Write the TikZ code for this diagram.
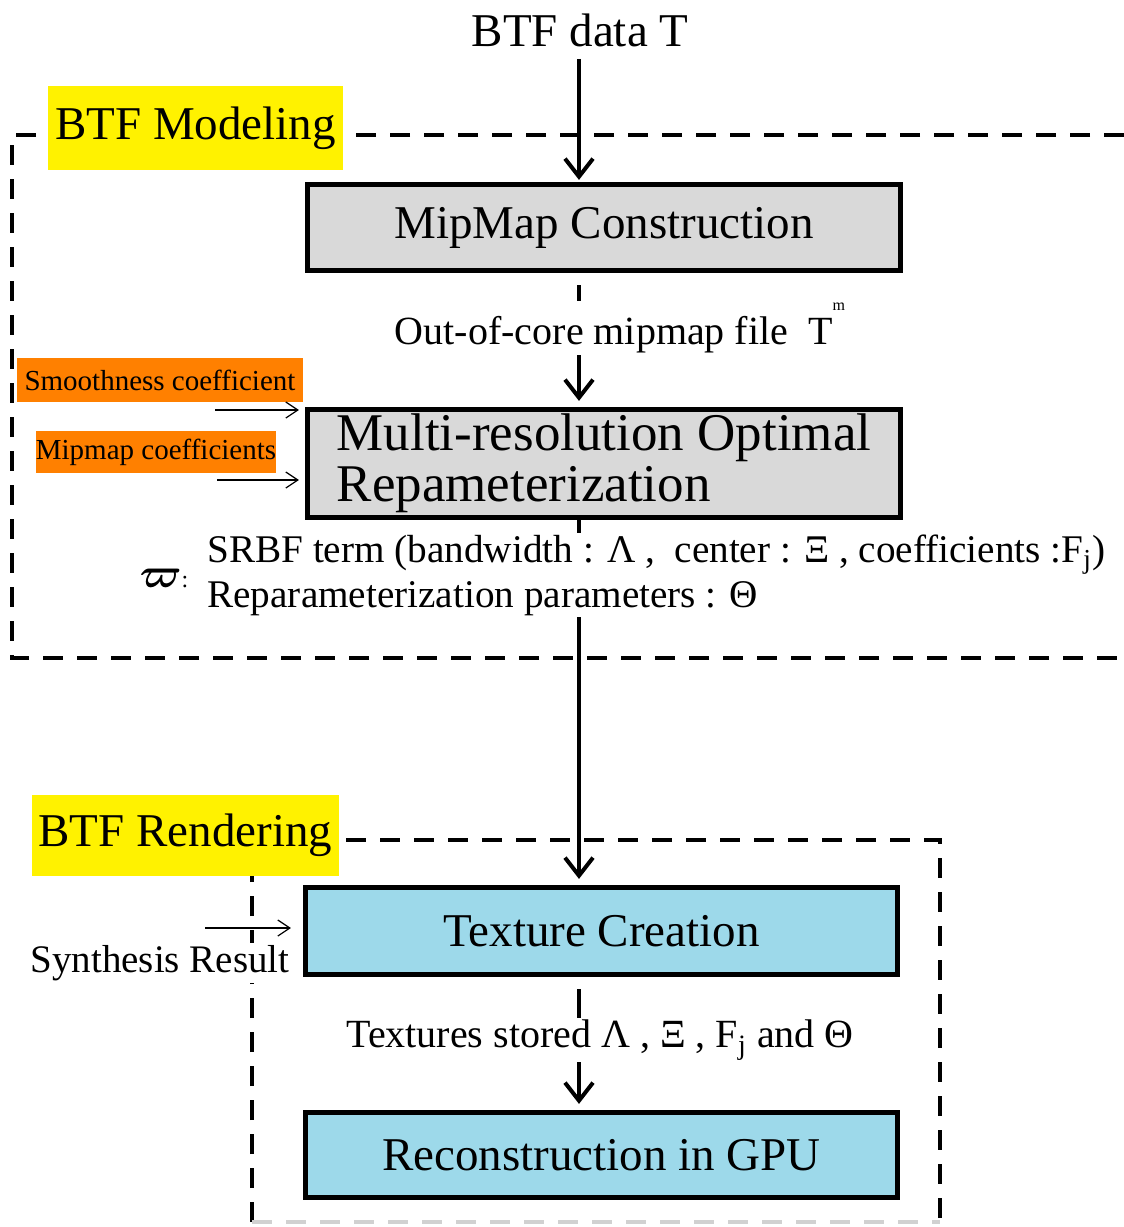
\documentclass[tikz,border=0pt]{standalone}
\usepackage{fontspec}
\setmainfont{Liberation Serif}
\usetikzlibrary{arrows.meta}
\definecolor{labelyellow}{HTML}{FFF200}
\definecolor{labelorange}{HTML}{FF8000}
\definecolor{boxgray}{HTML}{D9D9D9}
\definecolor{boxblue}{HTML}{9DD9EA}
\begin{document}
\begin{tikzpicture}[x=0.5pt,y=-0.5pt,
  stage/.style={draw=black, line width=2.6pt, inner sep=0pt,
                font=\fontsize{23.5}{28}\selectfont},
  tag/.style={fill=labelyellow, inner sep=0pt, font=\fontsize{23.5}{28}\selectfont},
  note/.style={fill=labelorange, inner sep=0pt, font=\fontsize{14.5}{17}\selectfont},
  conn/.style={line width=2pt, -{Straight Barb[length=9pt,width=14pt]}},
  feed/.style={line width=0.6pt, -{Straight Barb[length=6pt,width=8pt]}},
  groupframe/.style={line width=1.9pt, dash pattern=on 10pt off 7pt},
  caption/.style={fill=white, inner xsep=2pt, inner ysep=1pt,
                  font=\fontsize{20}{22.5}\selectfont}]
\useasboundingbox (0,0) rectangle (1124,1227);

% group frames
\draw[groupframe] (1124,135) -- (12,135) -- (12,658) -- (1124,658);
\draw[groupframe] (252,1222) -- (252,840) -- (940,840) -- (940,1222);
\draw[groupframe, draw=black!18] (252,1222) -- (940,1222);

% group tags
\node[tag, minimum width=147.5pt, minimum height=42pt] (modtag) at (195.5,128) {BTF Modeling};
\node[tag, minimum width=153.5pt, minimum height=40.5pt] (rentag) at (185.5,835.5) {BTF Rendering};

% input
\node[font=\fontsize{23.5}{28}\selectfont, inner sep=2pt] (src) at (580,30) {BTF data T};

% processing stages
\node[stage, fill=boxgray, minimum width=296.5pt, minimum height=43pt] (mip) at (604,227.5) {MipMap Construction};
\node[stage, fill=boxgray, minimum width=296.5pt, minimum height=54pt, align=left,
      font=\fontsize{26.5}{25.5}\selectfont] (multi) at (604,463.5) {Multi-resolution Optimal\\Repameterization};
\node[stage, fill=boxblue, minimum width=296pt, minimum height=43.5pt] (tex) at (601.5,931) {Texture Creation};
\node[stage, fill=boxblue, minimum width=296pt, minimum height=42.5pt] (recon) at (601.5,1155) {Reconstruction in GPU};

\coordinate (axis) at (579,0);

% main flow
\draw[conn, shorten <=4pt, shorten >=1pt] (src.south -| axis) -- (mip.north -| axis);
\draw[conn, shorten <=6pt, shorten >=3pt] (mip.south -| axis) -- (multi.north -| axis);
\node[caption] (mipfile) at (620,328) {Out-of-core mipmap file\ \ T\raisebox{0.85em}{\fontsize{8}{8}\selectfont m}};

\draw[conn, shorten >=3pt] (multi.south -| axis) -- (tex.north -| axis);
\node[caption, anchor=west, align=left, font=\fontsize{19.6}{22.5}\selectfont] (params) at (203,575)
  {SRBF term (bandwidth : Λ ,\ \ center : Ξ , coefficients :F\textsubscript{j})\\Reparameterization parameters : Θ};
\node[font=\fontsize{22}{22}\selectfont, inner sep=0pt] (omega) at (164,578) {{\boldmath$\varpi$}\fontsize{12}{12}\selectfont:};

\draw[conn, shorten <=6pt, shorten >=3pt] (tex.south -| axis) -- (recon.north -| axis);
\node[caption] (stored) at (600,1040) {Textures stored Λ , Ξ , F\textsubscript{j} and Θ};

% side inputs
\node[note, minimum width=143pt, minimum height=22pt] (smooth) at (160,380) {Smoothness coefficient};
\node[note, minimum width=119pt, minimum height=21pt] (mipco) at (156,452) {Mipmap coefficients};
\coordinate (smoothin) at (215,410);
\coordinate (mipin) at (217,480);
\draw[feed, shorten >=3pt] (smoothin) -- (smoothin -| multi.west);
\draw[feed, shorten >=3pt] (mipin) -- (mipin -| multi.west);

\node[fill=white, inner sep=1pt, font=\fontsize{19.5}{22}\selectfont] (synth) at (160,963) {Synthesis Result};
\coordinate (synthin) at (205,928);
\draw[feed, shorten >=6pt] (synthin) -- (synthin -| tex.west);
\end{tikzpicture}
\end{document}
